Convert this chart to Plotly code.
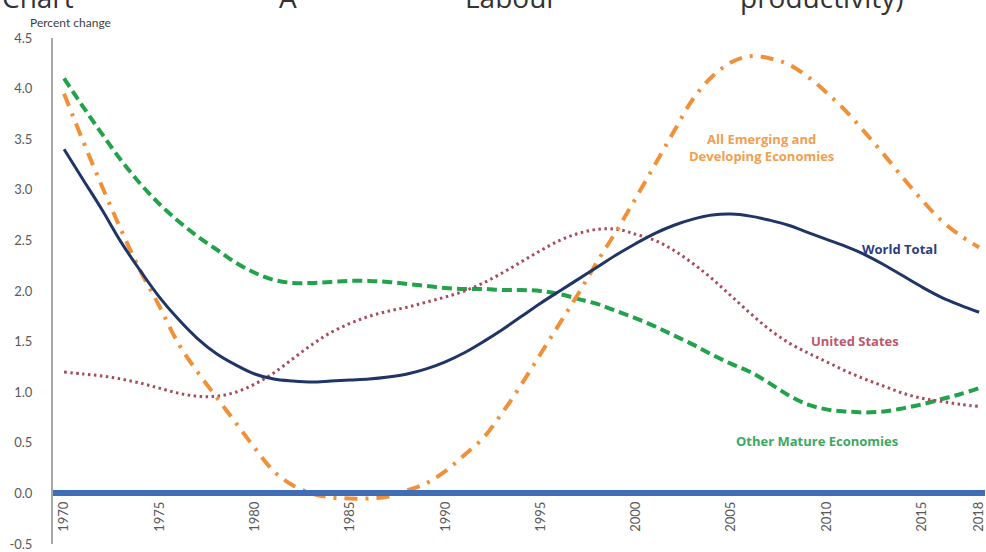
import plotly.graph_objects as go

years = list(range(1970, 2019))

world_total = [3.40, 3.10, 2.80, 2.48, 2.20, 1.94, 1.72, 1.53, 1.38, 1.27,
               1.18, 1.13, 1.11, 1.10, 1.11, 1.12, 1.13, 1.15, 1.18, 1.23,
               1.30, 1.39, 1.50, 1.62, 1.75, 1.88, 2.00, 2.12, 2.24, 2.36,
               2.47, 2.57, 2.65, 2.71, 2.75, 2.76, 2.74, 2.70, 2.65, 2.58,
               2.51, 2.44, 2.36, 2.26, 2.15, 2.04, 1.94, 1.86, 1.79]

emerging = [3.95, 3.48, 3.03, 2.60, 2.20, 1.85, 1.48, 1.20, 0.95, 0.70,
            0.45, 0.22, 0.08, 0.00, -0.04, -0.05, -0.05, -0.03, 0.03, 0.10,
            0.22, 0.38, 0.55, 0.80, 1.08, 1.38, 1.68, 1.98, 2.30, 2.60,
            2.92, 3.25, 3.58, 3.90, 4.12, 4.26, 4.32, 4.30, 4.24, 4.12,
            3.96, 3.78, 3.57, 3.35, 3.12, 2.90, 2.70, 2.55, 2.43]

other_mature = [4.10, 3.82, 3.55, 3.29, 3.06, 2.86, 2.69, 2.54, 2.41, 2.28,
                2.18, 2.11, 2.08, 2.08, 2.09, 2.10, 2.10, 2.09, 2.07, 2.05,
                2.03, 2.02, 2.02, 2.01, 2.01, 2.00, 1.97, 1.92, 1.87, 1.80,
                1.73, 1.65, 1.56, 1.47, 1.37, 1.28, 1.20, 1.09, 0.97, 0.88,
                0.83, 0.81, 0.80, 0.81, 0.84, 0.88, 0.93, 0.98, 1.04]

united_states = [1.20, 1.18, 1.16, 1.13, 1.09, 1.04, 0.99, 0.96, 0.96, 1.00,
                 1.08, 1.19, 1.33, 1.47, 1.59, 1.68, 1.75, 1.80, 1.84, 1.89,
                 1.94, 2.00, 2.08, 2.18, 2.29, 2.40, 2.50, 2.57, 2.61, 2.61,
                 2.56, 2.50, 2.40, 2.27, 2.12, 1.95, 1.78, 1.62, 1.49, 1.39,
                 1.30, 1.21, 1.13, 1.06, 0.99, 0.94, 0.91, 0.88, 0.86]

x_ticks = [1970, 1975, 1980, 1985, 1990, 1995, 2000, 2005, 2010, 2015, 2018]
y_ticks = [-0.5, 0.0, 0.5, 1.0, 1.5, 2.0, 2.5, 3.0, 3.5, 4.0, 4.5]

FONT = "Lato"
LFONT = "Open Sans"

fig = go.Figure()

fig.add_trace(go.Scatter(x=years, y=other_mature, mode="lines",
                         line=dict(color="#22A24B", width=4, dash="10px,5px",
                                   shape="spline", smoothing=1.0),
                         name="Other Mature Economies"))
fig.add_trace(go.Scatter(x=years, y=united_states, mode="lines",
                         line=dict(color="#A64D5C", width=3, dash="2.5px,3.5px",
                                   shape="spline", smoothing=1.0),
                         name="United States"))
fig.add_trace(go.Scatter(x=years, y=emerging, mode="lines",
                         line=dict(color="#F0913A", width=4, dash="13px,8px,3px,8px",
                                   shape="spline", smoothing=1.0),
                         name="All Emerging and Developing Economies"))
fig.add_trace(go.Scatter(x=years, y=world_total, mode="lines",
                         line=dict(color="#1F3566", width=3,
                                   shape="spline", smoothing=1.0),
                         name="World Total"))

labels = [
    (2006.6, 3.42, "<b>All Emerging and<br>Developing Economies</b>", "#F0A050"),
    (2013.8, 2.42, "<b>World Total</b>", "#2E3D80"),
    (2011.5, 1.51, "<b>United States</b>", "#C0566A"),
    (2009.5, 0.52, "<b>Other Mature Economies</b>", "#3DA860"),
]
for lx, ly, txt, col in labels:
    fig.add_annotation(x=lx, y=ly, text=txt, showarrow=False,
                       font=dict(family=LFONT, size=13, color=col), align="center")

fig.add_annotation(xref="paper", yref="paper", x=-0.027, y=1.012, xanchor="left",
                   yanchor="bottom", text="Percent change", showarrow=False,
                   font=dict(family=FONT, size=12, color="#404040"))

# clipped title fragments at the very top
for tx, txt in [(0, "Chart"), (277, "A"), (463, "Labour"), (739, "productivity)")]:
    fig.add_annotation(xref="paper", yref="paper", x=(tx - 53) / 933, y=1.039,
                       xanchor="left", yanchor="bottom", text=txt, showarrow=False,
                       font=dict(family="Open Sans", size=28, color="#333333"))

fig.update_layout(
    width=986, height=552,
    margin=dict(l=53, r=0, t=38, b=6),
    paper_bgcolor="white", plot_bgcolor="white",
    showlegend=False,
    font=dict(family=FONT, size=13, color="#595959"),
    xaxis=dict(range=[1969.42, 2018.31], tickmode="array", tickvals=x_ticks,
               ticktext=[str(v) for v in x_ticks], tickangle=-90,
               showgrid=False, zeroline=False, showline=True,
               linecolor="#3F6DB8", linewidth=6,
               anchor="free", position=0.1, ticks="",
               ticklabeloverflow="allow",
               tickfont=dict(family=FONT, size=13, color="#595959")),
    yaxis=dict(range=[-0.5, 4.5], tickmode="array", tickvals=y_ticks,
               ticktext=["-0.5", "0.0", "0.5", "1.0", "1.5", "2.0", "2.5", "3.0",
                         "3.5", "4.0", "4.5"],
               showgrid=False, zeroline=False, showline=True,
               linecolor="#A6A6A6", linewidth=2, ticks="",
               ticklabelstandoff=16, ticklabeloverflow="allow",
               tickfont=dict(family=FONT, size=13, color="#595959")),
)

fig.write_html("out.html", config={"displayModeBar": False},
               post_script="document.body.style.margin='0';document.body.style.overflow='hidden';")
